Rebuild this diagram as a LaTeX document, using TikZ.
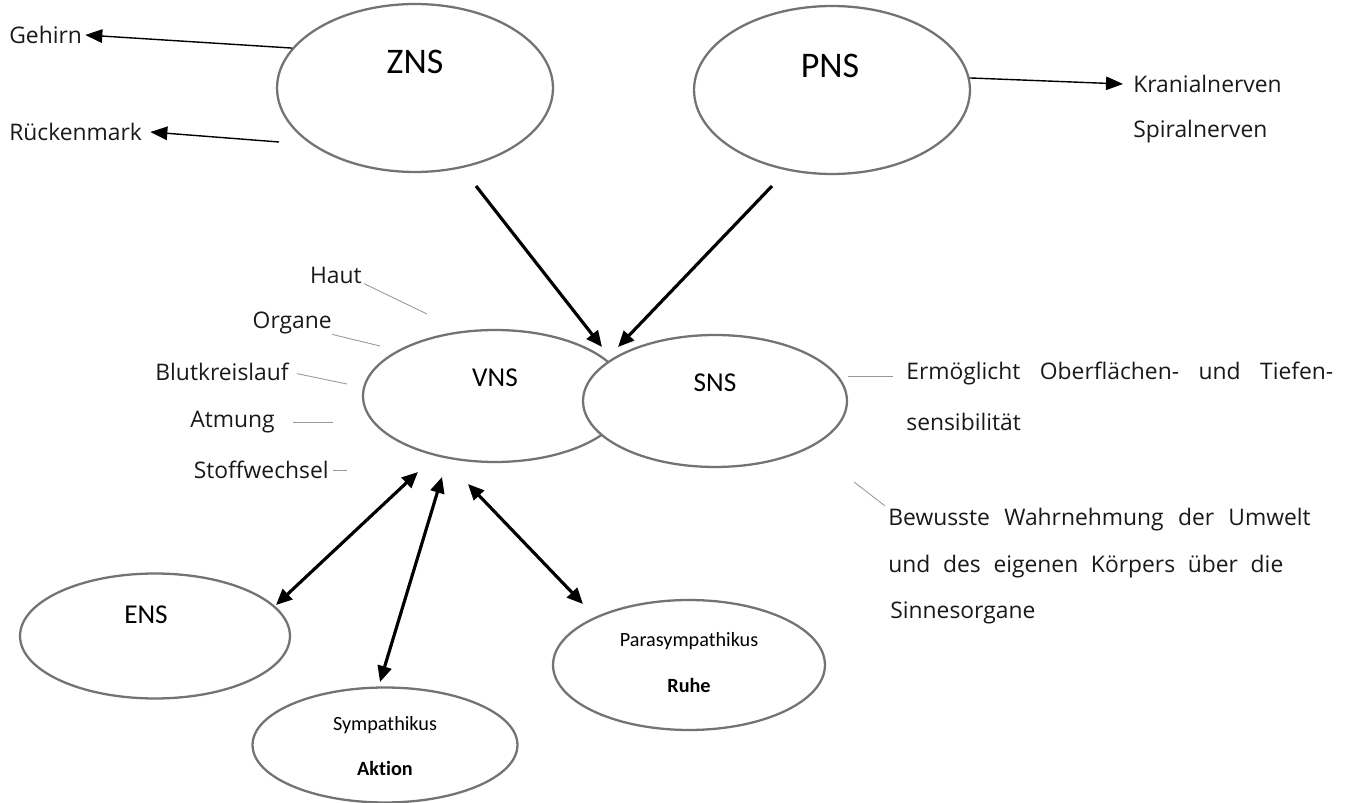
\documentclass[tikz,border=0pt]{standalone}
\usepackage{fontspec}
\setmainfont{Open Sans}
\newfontfamily\ovalfont[Ligatures=NoCommon]{Carlito}
\usetikzlibrary{shapes.geometric,arrows.meta}

\begin{document}
\begin{tikzpicture}[x=0.02cm,y=-0.02cm,
    oval/.style={ellipse,draw=black!55,fill=white,line width=1.3pt,inner sep=0pt},
    ovaltxt/.style={font=\ovalfont\fontsize{#1}{#1}\selectfont,inner sep=0pt},
    side/.style={font=\fontsize{13}{15}\selectfont,text=black!90,inner sep=0pt},
    thinarrow/.style={line width=0.8pt,-{Triangle[length=0.34cm,width=0.27cm]}},
    boldarrow/.style={line width=1.8pt,-{Triangle[length=0.32cm,width=0.28cm]}},
    twoway/.style={line width=1.8pt,{Triangle[length=0.32cm,width=0.28cm]}-{Triangle[length=0.32cm,width=0.28cm]}},
    tick/.style={draw=black!40,line width=0.5pt}]
  \useasboundingbox (0,0) rectangle (1346,803);

  % the ovals
  \node[oval,minimum width=5.52cm,minimum height=3.36cm] (zns) at (415,88) {};
  \node[oval,minimum width=5.52cm,minimum height=3.36cm] (pns) at (832,90) {};
  \node[oval,minimum width=5.28cm,minimum height=2.64cm] (vns) at (495,396) {};
  \node[oval,minimum width=5.28cm,minimum height=2.64cm] (sns) at (715,401) {};
  \node[oval,minimum width=5.4cm,minimum height=2.5cm] (ens) at (155,636) {};
  \node[oval,minimum width=5.3cm,minimum height=2.3cm] (sym) at (385,745) {};
  \node[oval,minimum width=5.44cm,minimum height=2.6cm] (para) at (689,665) {};

  % text inside the ovals
  \node[ovaltxt=20.5] (znstxt) at (415,62) {ZNS};
  \node[ovaltxt=20.5] (pnstxt) at (830,66) {PNS};
  \node[ovaltxt=15.5] (vnstxt) at (495,378) {VNS};
  \node[ovaltxt=15.5] (snstxt) at (715,383) {SNS};
  \node[ovaltxt=15.5] (enstxt) at (146,615) {ENS};
  \node[ovaltxt=11.5] (symtxt) at (385,725) {Sympathikus};
  \node[ovaltxt=11.5] (symbold) at (385,768) {\bfseries Aktion};
  \node[ovaltxt=11.5] (paratxt) at (689,641) {Parasympathikus};
  \node[ovaltxt=11.5] (parabold) at (689,685) {\bfseries Ruhe};

  % side labels
  \node[side,anchor=west] (gehirn) at (9,35) {Gehirn};
  \node[side,anchor=west] (rueck) at (9,132) {Rückenmark};
  \node[side,anchor=west] (kranial) at (1133,84) {Kranialnerven};
  \node[side,anchor=west] (spiral) at (1133,132) {Spiralnerven};
  \node[side,anchor=east] (haut) at (362,275) {Haut};
  \node[side,anchor=east] (organe) at (332,323) {Organe};
  \node[side,anchor=east] (blut) at (289,372) {Blutkreislauf};
  \node[side,anchor=west] (atmung) at (190,422) {Atmung};
  \node[side,anchor=east] (stoff) at (329,470) {Stoffwechsel};
  \node[side,anchor=west] (erm) at (906,374) {\makebox[8.54cm][s]{Ermöglicht Oberflächen- und Tiefen-}};
  \node[side,anchor=west] (sensi) at (906,422) {sensibilität};
  \node[side,anchor=west] (bew) at (888,520) {\makebox[8.45cm][s]{Bewusste Wahrnehmung der Umwelt}};
  \node[side,anchor=west] (eigen) at (888,567) {\makebox[7.9cm][s]{und des eigenen Körpers über die}};
  \node[side,anchor=west] (sinne) at (890,613) {Sinnesorgane};

  % free ends
  \coordinate (rmstart) at (279,142);
  \coordinate (zfrom) at (476,186);
  \coordinate (zto) at (602,347);
  \coordinate (pfrom) at (772,186);
  \coordinate (pto) at (618,347);
  \coordinate (enslow) at (276,605);
  \coordinate (enshigh) at (418,472);
  \coordinate (symlow) at (380,682);
  \coordinate (symhigh) at (442,477);
  \coordinate (paralow) at (583,604);
  \coordinate (parahigh) at (468,484);
  \coordinate (hautpt) at (427,314);
  \coordinate (orgpt) at (380,346);
  \coordinate (blutpt) at (347,384);
  \coordinate (atmpt) at (333,422);
  \coordinate (stoffpt) at (347,470);
  \coordinate (bewpt) at (854,482);

  \draw[thinarrow] (zns.162) -- ([xshift=0.06cm]gehirn.east);
  \draw[thinarrow] (rmstart) -- ([xshift=0.16cm]rueck.east);
  \draw[thinarrow] (pns.5) -- ([xshift=-0.2cm]kranial.west);

  \draw[boldarrow] (zfrom) -- (zto);
  \draw[boldarrow] (pfrom) -- (pto);

  \draw[twoway] (enslow) -- (enshigh);
  \draw[twoway] (symlow) -- (symhigh);
  \draw[twoway] (paralow) -- (parahigh);

  % thin grey pointers
  \draw[tick] ([xshift=0.04cm]haut.south east) -- (hautpt);
  \draw[tick] (organe.south east) -- (orgpt);
  \draw[tick,shorten <=0.16cm] (blut.east) -- (blutpt);
  \draw[tick,shorten <=0.36cm] (atmung.east) -- (atmpt);
  \draw[tick,shorten <=0.08cm] (stoff.east) -- (stoffpt);
  \draw[tick,shorten <=0.18cm,shorten >=0.26cm] (sns.11) -- (sns.11 -| erm.west);
  \draw[tick,shorten >=0.08cm] (bewpt) -- (bew.north west);
\end{tikzpicture}
\end{document}
